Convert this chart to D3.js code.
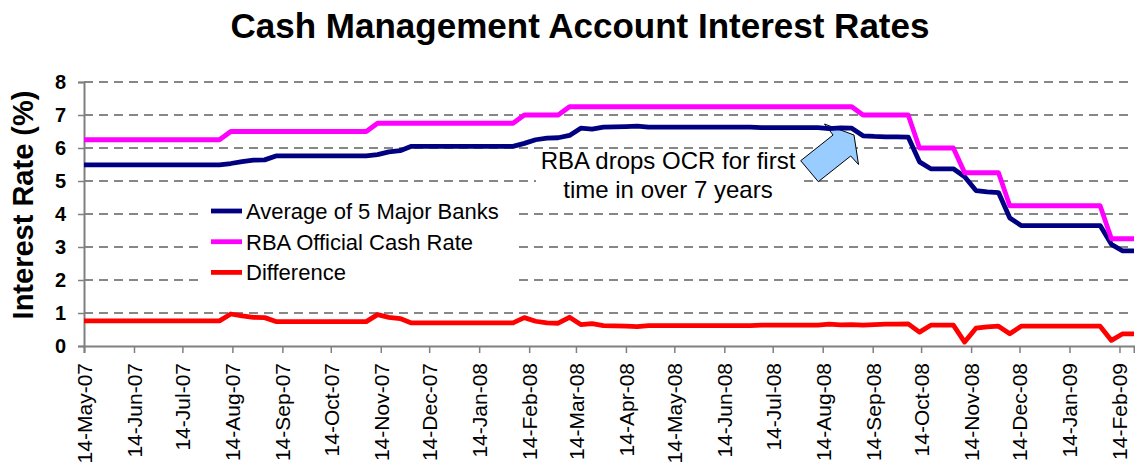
<!DOCTYPE html>
<html>
<head>
<meta charset="utf-8">
<script src="https://cdn.jsdelivr.net/npm/d3@7"></script>
<style>
  html, body { margin: 0; padding: 0; background: #fff; }
  svg { display: block; font-family: "Liberation Sans", Arial, sans-serif; }
</style>
</head>
<body>
<svg id="chart" width="1135" height="466"></svg>
<script>
// ---- Data (weekly observations) ----
const dates = ["2007-05-14","2007-05-21","2007-05-28","2007-06-04","2007-06-11","2007-06-18","2007-06-25","2007-07-02","2007-07-09","2007-07-16","2007-07-23","2007-07-30","2007-08-06","2007-08-13","2007-08-20","2007-08-27","2007-09-03","2007-09-10","2007-09-17","2007-09-24","2007-10-01","2007-10-08","2007-10-15","2007-10-22","2007-10-29","2007-11-05","2007-11-12","2007-11-19","2007-11-26","2007-12-03","2007-12-10","2007-12-17","2007-12-24","2007-12-31","2008-01-07","2008-01-14","2008-01-21","2008-01-28","2008-02-04","2008-02-11","2008-02-18","2008-02-25","2008-03-03","2008-03-10","2008-03-17","2008-03-24","2008-03-31","2008-04-07","2008-04-14","2008-04-21","2008-04-28","2008-05-05","2008-05-12","2008-05-19","2008-05-26","2008-06-02","2008-06-09","2008-06-16","2008-06-23","2008-06-30","2008-07-07","2008-07-14","2008-07-21","2008-07-28","2008-08-04","2008-08-11","2008-08-18","2008-08-25","2008-09-01","2008-09-08","2008-09-15","2008-09-22","2008-09-29","2008-10-06","2008-10-13","2008-10-20","2008-10-27","2008-11-03","2008-11-10","2008-11-17","2008-11-24","2008-12-01","2008-12-08","2008-12-15","2008-12-22","2008-12-29","2009-01-05","2009-01-12","2009-01-19","2009-01-26","2009-02-02","2009-02-09","2009-02-16","2009-02-23"];

const bankAverage = [5.49,5.49,5.49,5.49,5.49,5.49,5.49,5.49,5.49,5.49,5.49,5.49,5.49,
  5.53,5.59,5.63,5.64,
  5.76,5.76,5.76,5.76,5.76,5.76,5.76,5.76,5.76,
  5.80,5.88,5.92,
  6.05,6.05,6.05,6.05,6.05,6.05,6.05,6.05,6.05,6.05,
  6.14,6.25,6.30,6.31,
  6.38,6.60,6.57,6.63,6.64,6.65,6.66,
  6.63,6.63,6.63,6.63,6.63,6.63,6.63,6.63,6.63,6.63,
  6.62,6.62,6.62,6.62,6.62,6.62,
  6.59,6.61,6.60,
  6.37,6.35,6.34,6.34,6.33,
  5.58,5.37,5.37,5.37,
  5.13,4.71,4.67,4.65,
  3.88,
  3.65,3.65,3.65,3.65,3.65,3.65,3.65,3.65,
  3.08,2.88,2.88];

const rbaCashRate = [6.25,6.25,6.25,6.25,6.25,6.25,6.25,6.25,6.25,6.25,6.25,6.25,6.25,
  6.5,6.5,6.5,6.5,6.5,6.5,6.5,6.5,6.5,6.5,6.5,6.5,6.5,
  6.75,6.75,6.75,6.75,6.75,6.75,6.75,6.75,6.75,6.75,6.75,6.75,6.75,
  7.0,7.0,7.0,7.0,
  7.25,7.25,7.25,7.25,7.25,7.25,7.25,7.25,7.25,7.25,7.25,7.25,7.25,7.25,7.25,7.25,7.25,7.25,7.25,7.25,7.25,7.25,7.25,7.25,7.25,7.25,
  7.0,7.0,7.0,7.0,7.0,
  6.0,6.0,6.0,6.0,
  5.25,5.25,5.25,5.25,
  4.25,4.25,4.25,4.25,4.25,4.25,4.25,4.25,4.25,
  3.25,3.25,3.25];

const difference = [0.76,0.76,0.76,0.76,0.76,0.76,0.76,0.76,0.76,0.76,0.76,0.76,0.76,
  0.97,0.91,0.87,0.86,
  0.74,0.74,0.74,0.74,0.74,0.74,0.74,0.74,0.74,
  0.95,0.87,0.83,
  0.70,0.70,0.70,0.70,0.70,0.70,0.70,0.70,0.70,0.70,
  0.86,0.75,0.70,0.69,
  0.87,0.65,0.68,0.62,0.61,0.60,0.59,
  0.62,0.62,0.62,0.62,0.62,0.62,0.62,0.62,0.62,0.62,
  0.63,0.63,0.63,0.63,0.63,0.63,
  0.66,0.64,0.65,
  0.63,0.65,0.66,0.66,0.67,
  0.42,0.63,0.63,0.63,
  0.12,0.54,0.58,0.60,
  0.37,
  0.60,0.60,0.60,0.60,0.60,0.60,0.60,0.60,
  0.17,0.37,0.37];

const xTickDates = ["2007-05-14","2007-06-14","2007-07-14","2007-08-14","2007-09-14","2007-10-14","2007-11-14","2007-12-14","2008-01-14","2008-02-14","2008-03-14","2008-04-14","2008-05-14","2008-06-14","2008-07-14","2008-08-14","2008-09-14","2008-10-14","2008-11-14","2008-12-14","2009-01-14","2009-02-14"];
const yTicks = [0,1,2,3,4,5,6,7,8];

const seriesNames = ["Average of 5 Major Banks","RBA Official Cash Rate","Difference"];
const seriesColors = ["#000080","#ff00ff","#ff0000"];

const titleText = "Cash Management Account Interest Rates";
const yTitleText = "Interest Rate (%)";
const noteLines = ["RBA drops OCR for first","time in over 7 years"];

// ---- Layout ----
const parse = d3.utcParse("%Y-%m-%d");
const X0 = 84, X1 = 1134, Y0 = 346, Y1 = 82;
const svg = d3.select("#chart");

const x = d3.scaleUtc().domain([parse("2007-05-14"), parse("2009-02-23")]).range([X0, X1]);
const y = d3.scaleLinear().domain([0, 8]).range([Y0, Y1]);

const FONT = '"Liberation Sans", Arial, sans-serif';

// Title
svg.append("text").attr("x", 580).attr("y", 38).attr("text-anchor", "middle")
  .attr("font-size", 35).attr("font-weight", "bold").attr("fill", "#000").text(titleText);

// Gridlines
svg.append("g").selectAll("line").data(yTicks.filter(d => d > 0)).join("line")
  .attr("x1", X0).attr("x2", X1).attr("y1", d => y(d)).attr("y2", d => y(d))
  .attr("stroke", "#606060").attr("stroke-width", 1.5).attr("stroke-dasharray", "9,6");

// Y axis
const yAxis = svg.append("g").attr("transform", `translate(${X0},0)`)
  .call(d3.axisLeft(y).tickValues(yTicks).tickSize(6).tickPadding(12).tickFormat(d3.format("d")));
yAxis.select(".domain").attr("stroke", "#808080").attr("stroke-width", 2);
yAxis.selectAll(".tick line").attr("stroke", "#808080").attr("stroke-width", 1.5);
yAxis.selectAll(".tick text").attr("font-size", 20).attr("font-weight", "bold")
  .attr("font-family", FONT).attr("fill", "#000");

// X axis
const xAxis = svg.append("g").attr("transform", `translate(0,${Y0})`)
  .call(d3.axisBottom(x).tickValues(xTickDates.map(parse)).tickSize(7)
    .tickFormat(d3.utcFormat("%d-%b-%y")));
xAxis.select(".domain").attr("stroke", "#808080").attr("stroke-width", 2);
xAxis.selectAll(".tick line").attr("stroke", "#808080").attr("stroke-width", 1.5);
xAxis.selectAll(".tick text")
  .attr("font-size", 21).attr("font-family", FONT).attr("fill", "#000")
  .attr("text-anchor", "end").attr("dy", "0.35em")
  .attr("transform", "translate(0,17) rotate(-90)").attr("x", 0).attr("y", 0);

// Y title
svg.append("text").attr("transform", "translate(33,205) rotate(-90)")
  .attr("text-anchor", "middle").attr("font-size", 29).attr("font-weight", "bold")
  .attr("fill", "#000").text(yTitleText);

// Annotation text box
const noteBox = svg.append("g");
noteBox.append("rect").attr("x", 536).attr("y", 150).attr("width", 265).attr("height", 54).attr("fill", "#fff");
noteBox.selectAll("text").data(noteLines).join("text")
  .attr("x", 668).attr("y", (d, i) => 169 + i * 29).attr("text-anchor", "middle")
  .attr("font-size", 24).attr("fill", "#000").text(d => d);

// Arrow
svg.append("polygon")
  .attr("points", "800.7,160.7 833.1,135 824.5,124 854,135 858.5,164.5 850.7,156 818.3,181.7")
  .attr("fill", "#99ccff").attr("stroke", "#000").attr("stroke-width", 1);

// Lines
const seriesData = [bankAverage, rbaCashRate, difference];
const line = d3.line().x((d, i) => x(parse(dates[i]))).y(d => y(d));
svg.append("g").selectAll("path").data(seriesData).join("path")
  .attr("d", d => line(d)).attr("fill", "none")
  .attr("stroke", (d, i) => seriesColors[i]).attr("stroke-width", 4.8)
  .attr("stroke-linejoin", "round").attr("stroke-linecap", "butt");

// Legend
const legend = svg.append("g");
legend.append("rect").attr("x", 201).attr("y", 193).attr("width", 312).attr("height", 95).attr("fill", "#fff");
const items = legend.selectAll("g.item").data(seriesNames).join("g").attr("class", "item")
  .attr("transform", (d, i) => `translate(0,${211 + i * 30.7})`);
items.append("line").attr("x1", 211).attr("x2", 242).attr("y1", 0).attr("y2", 0)
  .attr("stroke", (d, i) => seriesColors[i]).attr("stroke-width", 4.8);
items.append("text").attr("x", 246).attr("y", 8).attr("font-size", 22).attr("fill", "#000").text(d => d);
</script>
</body>
</html>
